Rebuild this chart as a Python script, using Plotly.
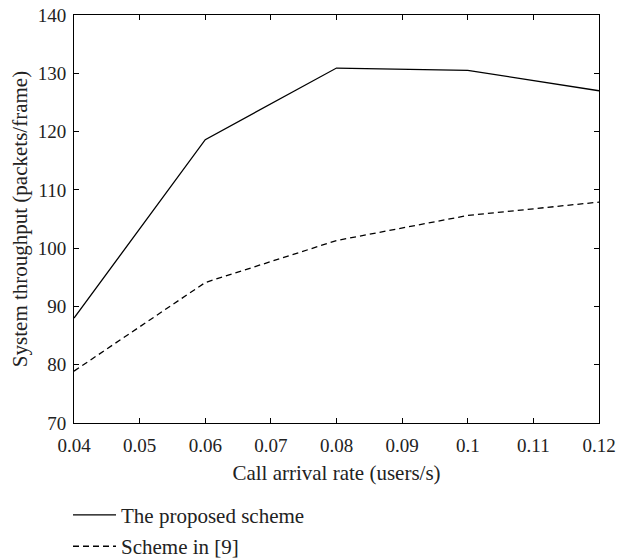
import plotly.graph_objects as go

x_rate = [0.04, 0.06, 0.08, 0.10, 0.12]
proposed = [88.0, 118.6, 130.9, 130.5, 127.0]
scheme9 = [78.9, 94.1, 101.3, 105.6, 107.9]

x_ticks = [0.04, 0.05, 0.06, 0.07, 0.08, 0.09, 0.10, 0.11, 0.12]
x_ticktext = ["0.04", "0.05", "0.06", "0.07", "0.08", "0.09", "0.1", "0.11", "0.12"]
y_ticks = [70, 80, 90, 100, 110, 120, 130, 140]

FONT = "Liberation Serif"
FT = 19   # tick labels
FL = 21   # titles / legend

fig = go.Figure()
fig.add_trace(go.Scatter(x=x_rate, y=proposed, mode="lines", name="The proposed scheme",
                         legendgroup="a", line=dict(color="black", width=1.3)))
fig.add_trace(go.Scatter(x=x_rate, y=scheme9, mode="lines", name="Scheme in [9]",
                         legendgroup="b", line=dict(color="black", width=1.3, dash="6px,4px")))

axis_common = dict(showline=True, linecolor="black", linewidth=1, mirror="ticks",
                   ticks="inside", ticklen=5, tickcolor="black", tickwidth=1,
                   showgrid=False, zeroline=False, automargin=False,
                   tickfont=dict(family=FONT, size=FT, color="#222"))

fig.update_layout(
    width=626, height=560,
    margin=dict(l=74, r=27, t=15, b=137, autoexpand=False),
    paper_bgcolor="white", plot_bgcolor="white",
    font=dict(family=FONT, size=FL, color="#222"),
    xaxis=dict(range=[0.04, 0.12], tickvals=x_ticks, ticktext=x_ticktext,
               ticklabelstandoff=5,
               title=dict(text="Call arrival rate (users/s)", font=dict(family=FONT, size=FL), standoff=10),
               **axis_common),
    yaxis=dict(range=[70, 140], tickvals=y_ticks, ticklabelstandoff=3,
               title=dict(text="System throughput (packets/frame)", font=dict(family=FONT, size=FL), standoff=4),
               **axis_common),
    showlegend=True,
    legend=dict(x=-0.0114, xanchor="left", y=-0.176, yanchor="top",
                font=dict(family=FONT, size=FL), bgcolor="rgba(0,0,0,0)",
                tracegroupgap=1, itemwidth=43),
)

fig.write_html("out.html", config={"displayModeBar": False},
               post_script="document.body.style.margin='0';")
